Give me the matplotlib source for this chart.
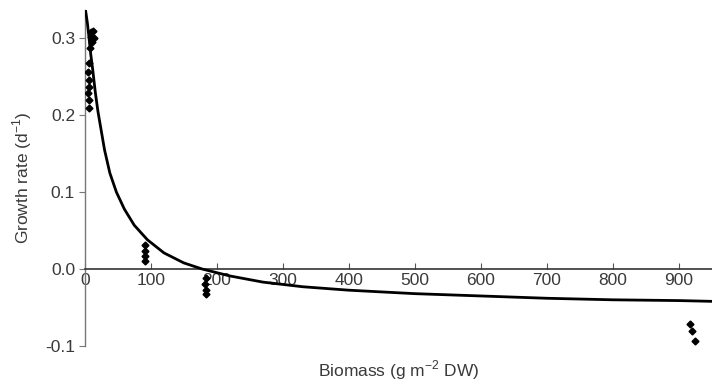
import matplotlib.pyplot as plt

# fitted curve
curve_x = [1.5, 4, 6, 9, 12, 16, 20, 25, 30, 38, 48, 60, 75, 95, 120, 150,
           178, 220, 270, 330, 400, 500, 600, 700, 800, 900, 950]
curve_y = [0.335, 0.32, 0.305, 0.28, 0.26, 0.23, 0.205, 0.18, 0.155, 0.125,
           0.1, 0.078, 0.057, 0.038, 0.021, 0.008, 0.0, -0.009, -0.017,
           -0.023, -0.0275, -0.032, -0.035, -0.038, -0.040, -0.041, -0.042]

# observations
obs_x = [9, 10, 11, 8, 6, 5, 7, 6, 5, 7, 6, 13, 14,
         92, 92, 92, 92,
         183, 182, 183, 184,
         917, 920, 924]
obs_y = [0.308, 0.302, 0.295, 0.288, 0.268, 0.256, 0.246, 0.237, 0.229, 0.220, 0.209, 0.31, 0.30,
         0.031, 0.024, 0.017, 0.010,
         -0.012, -0.020, -0.027, -0.033,
         -0.072, -0.081, -0.093]

xticks = [0, 100, 200, 300, 400, 500, 600, 700, 800, 900]
yticks = [-0.1, 0.0, 0.1, 0.2, 0.3]

plt.rcParams['font.family'] = ['Liberation Sans', 'DejaVu Sans']
txt = '#3a3a3a'

fig = plt.figure(figsize=(7.12, 3.81), dpi=100)
ax = fig.add_axes([0.119, 0.092, 0.881, 0.882])

ax.plot(curve_x, curve_y, color='black', lw=2.0, zorder=3)
ax.plot(obs_x, obs_y, 'D', color='black', ms=3.5, zorder=4)

ax.set_xlim(0, 950)
ax.set_ylim(-0.1, 0.337)

for s in ['top', 'right']:
    ax.spines[s].set_visible(False)
ax.spines['bottom'].set_position(('data', 0))
ax.spines['left'].set_bounds(-0.1, 0.337)
ax.spines['bottom'].set_color('#333333')
ax.spines['left'].set_color('#777777')
ax.spines['bottom'].set_linewidth(1.2)
ax.spines['left'].set_linewidth(1.0)

ax.set_xticks(xticks)
ax.set_yticks(yticks)
ax.set_yticklabels(['%.1f' % v for v in yticks])
ax.tick_params(axis='x', direction='in', length=4, pad=3, labelsize=12.5,
               colors='#555555', labelcolor=txt)
ax.tick_params(axis='y', direction='out', length=4, pad=3, labelsize=12.5,
               colors='#777777', labelcolor=txt)

ax.set_ylabel('Growth rate (d$^{\\mathregular{-1}}$)', fontsize=12.5, color=txt, labelpad=8)
ax.set_xlabel('Biomass (g m$^{\\mathregular{-2}}$ DW)', fontsize=12.5, color=txt, va='center')
ax.xaxis.set_label_coords(0.5, -0.071)

fig.savefig('out.png', dpi=100)
